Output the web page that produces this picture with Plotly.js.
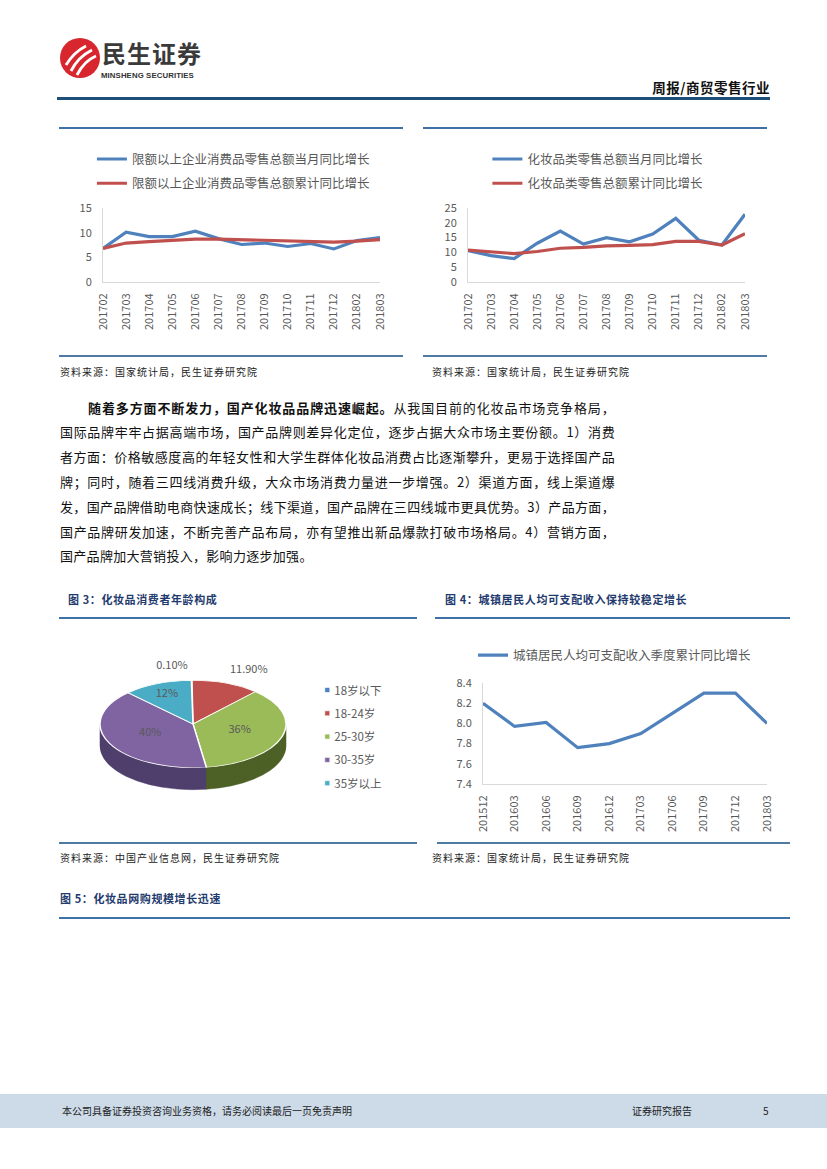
<!DOCTYPE html>
<html><head><meta charset="utf-8">
<script src="https://cdn.plot.ly/plotly-3.0.1.min.js"></script>
<style>
html,body{margin:0;padding:0;background:#fff;}
#page{position:relative;width:827px;height:1169px;overflow:hidden;font-family:"Noto Sans CJK SC","Noto Sans",sans-serif;}
.abs{position:absolute;}
.hl{position:absolute;height:2px;background:#3f70a6;}
.src{position:absolute;font-size:10px;color:#222;letter-spacing:1px;white-space:nowrap;line-height:12px;}
.cap{position:absolute;font-size:11px;font-weight:bold;color:#1f3b6e;letter-spacing:0.6px;white-space:nowrap;line-height:14px;}
.para{position:absolute;left:60px;top:395.6px;width:555px;font-size:13px;letter-spacing:0.3px;color:#111;line-height:24.8px;}
.para div{text-align:justify;text-align-last:justify;height:24.8px;}
.para div.last{text-align:left;text-align-last:left;}
.chart{position:absolute;}
</style></head>
<body><div id="page">

<svg class="abs" style="left:60px;top:38px" width="40" height="40" viewBox="0 0 40 40">
  <circle cx="20" cy="20" r="20" fill="#d7262d"/>
  <path d="M6 27 Q14 14 26 8" stroke="#fff" stroke-width="2.8" fill="none"/>
  <path d="M11 33 Q18 19 32 12" stroke="#fff" stroke-width="2.8" fill="none"/>
  <path d="M17 37 Q24 23 36 18" stroke="#fff" stroke-width="2.8" fill="none"/>
</svg>
<div class="abs" style="left:102px;top:41px;font-size:24px;font-weight:bold;color:#3a3a3a;letter-spacing:1px;line-height:24px;">民生证券</div>
<div class="abs" style="left:101px;top:71px;font-family:'Liberation Sans',Arial,sans-serif;font-size:7.8px;font-weight:bold;color:#333;letter-spacing:0.1px;line-height:9px;">MINSHENG SECURITIES</div>
<div class="abs" style="right:57px;top:78px;font-size:13.5px;font-weight:bold;color:#111;line-height:18px;letter-spacing:0.5px;">周报/商贸零售行业</div>
<div class="abs" style="left:57px;top:96.5px;width:713px;height:3px;background:#1f4e79;"></div>

<div class="hl" style="left:59px;top:126.5px;width:344px;"></div>
<div class="hl" style="left:423px;top:126.5px;width:344px;"></div>
<div class="hl" style="left:59px;top:354.5px;width:344px;background:#4f7aa3;"></div>
<div class="hl" style="left:423px;top:354.5px;width:344px;background:#4f7aa3;"></div>
<div class="src" style="left:60px;top:366px;">资料来源：国家统计局，民生证券研究院</div>
<div class="src" style="left:432px;top:366px;">资料来源：国家统计局，民生证券研究院</div>

<div class="para">
<div style="padding-left:28px;"><b>随着多方面不断发力，国产化妆品品牌迅速崛起。</b>从我国目前的化妆品市场竞争格局，</div>
<div>国际品牌牢牢占据高端市场，国产品牌则差异化定位，逐步占据大众市场主要份额。1）消费</div>
<div>者方面：价格敏感度高的年轻女性和大学生群体化妆品消费占比逐渐攀升，更易于选择国产品</div>
<div>牌；同时，随着三四线消费升级，大众市场消费力量进一步增强。2）渠道方面，线上渠道爆</div>
<div>发，国产品牌借助电商快速成长；线下渠道，国产品牌在三四线城市更具优势。3）产品方面，</div>
<div>国产品牌研发加速，不断完善产品布局，亦有望推出新品爆款打破市场格局。4）营销方面，</div>
<div class="last">国产品牌加大营销投入，影响力逐步加强。</div>
</div>

<div class="cap" style="left:68px;top:592px;">图 3：化妆品消费者年龄构成</div>
<div class="cap" style="left:445px;top:592px;">图 4：城镇居民人均可支配收入保持较稳定增长</div>
<div class="hl" style="left:59px;top:617px;width:358px;"></div>
<div class="hl" style="left:435px;top:617px;width:355px;"></div>
<div class="hl" style="left:59px;top:842px;width:358px;background:#4f7aa3;"></div>
<div class="hl" style="left:437px;top:842px;width:353px;background:#4f7aa3;"></div>
<div class="src" style="left:60px;top:852px;">资料来源：中国产业信息网，民生证券研究院</div>
<div class="src" style="left:432px;top:852px;">资料来源：国家统计局，民生证券研究院</div>
<div class="cap" style="left:60px;top:891px;">图 5：化妆品网购规模增长迅速</div>
<div class="hl" style="left:59px;top:917px;width:731px;"></div>

<div class="abs" style="left:0;top:1094px;width:827px;height:34px;background:#cddbe9;"></div>
<div class="abs" style="left:62px;top:1104px;font-size:10px;color:#222;line-height:14px;">本公司具备证券投资咨询业务资格，请务必阅读最后一页免责声明</div>
<div class="abs" style="left:632px;top:1104px;font-size:10px;color:#222;line-height:14px;">证券研究报告</div>
<div class="abs" style="left:763px;top:1104px;font-size:10px;color:#222;line-height:14px;">5</div>

<div id="c1" class="chart" style="left:60px;top:130px;width:343px;height:222px;"></div>
<div id="c2" class="chart" style="left:423px;top:130px;width:344px;height:222px;"></div>
<div id="c3" class="chart" style="left:60px;top:620px;width:355px;height:222px;"></div>
<div id="c4" class="chart" style="left:437px;top:620px;width:353px;height:222px;"></div>
</div>

<script>
// ---------- data ----------
const months = ['201702','201703','201704','201705','201706','201707','201708','201709','201710','201711','201712','201802','201803'];
const retailMonthly    = [6.8,10.1,9.2,9.2,10.3,8.8,7.6,7.9,7.2,7.8,6.7,8.4,9.0];
const retailCumulative = [6.8,7.9,8.2,8.4,8.7,8.7,8.6,8.5,8.3,8.2,8.1,8.3,8.6];
const retailNames = ['限额以上企业消费品零售总额当月同比增长','限额以上企业消费品零售总额累计同比增长'];

const cosMonthly    = [10.6,8.9,7.9,13.1,17.2,12.8,15.0,13.6,16.2,21.5,14.1,12.5,22.9];
const cosCumulative = [10.8,10.2,9.6,10.3,11.4,11.7,12.2,12.4,12.6,13.7,13.7,12.5,16.3];
const cosNames = ['化妆品类零售总额当月同比增长','化妆品类零售总额累计同比增长'];

const ageGroups = ['18岁以下','18-24岁','25-30岁','30-35岁','35岁以上'];
const ageShares = [0.1, 11.9, 36, 40, 12];
const ageLabels = ['0.10%','11.90%','36%','40%','12%'];

const quarters = ['201512','201603','201606','201609','201612','201703','201706','201709','201712','201803'];
const incomeGrowth = [8.2,7.97,8.01,7.76,7.8,7.9,8.1,8.3,8.3,8.0];
const incomeName = '城镇居民人均可支配收入季度累计同比增长';

// ---------- styles ----------
const FONT = '"Noto Sans CJK SC","Noto Sans",sans-serif';
const BLUE = '#4f81bd', RED = '#c0504d';
const TXT = '#595959';
const cfgPlot = {staticPlot: true, displayModeBar: false};

function drawLine(id, cats, series, c) {
  const traces = series.map((s, i) => ({
    type: 'scatter', mode: 'lines', x: cats, y: s.y, name: s.name,
    line: {color: s.color, width: 3.2}, legendgroup: 'g' + i
  }));
  const layout = {
    width: c.w, height: c.h, margin: c.m,
    paper_bgcolor: 'rgba(0,0,0,0)', plot_bgcolor: 'rgba(0,0,0,0)',
    font: {family: FONT, size: 11, color: TXT},
    showlegend: true,
    legend: {x: c.lx, y: c.ly, xanchor: 'left', yanchor: 'top', orientation: 'v',
             font: {size: 12.5, color: TXT, family: FONT}, tracegroupgap: c.gap,
             bgcolor: 'rgba(0,0,0,0)', itemwidth: 30},
    xaxis: {type: 'category', showline: true, linecolor: '#d9d9d9', linewidth: 1,
            showgrid: false, zeroline: false, tickangle: -90, ticks: '',
            ticklabelstandoff: 6, tickfont: {size: 11, color: TXT, family: FONT}},
    yaxis: {range: c.yr, dtick: c.dtick, tickformat: c.fmt, showline: true,
            linecolor: '#d9d9d9', linewidth: 1, showgrid: false, zeroline: false,
            ticks: '', ticklabelstandoff: 8, tickfont: {size: 11, color: TXT, family: FONT}}
  };
  return Plotly.newPlot(id, traces, layout, cfgPlot);
}

drawLine('c1', months,
  [{name: retailNames[0], y: retailMonthly, color: BLUE},
   {name: retailNames[1], y: retailCumulative, color: RED}],
  {w: 343, h: 222, m: {l: 43, r: 23, t: 77.7, b: 69.7}, lx: -0.04, ly: 1.86, gap: 5,
   yr: [0, 15], dtick: 5, fmt: 'd'});

drawLine('c2', months,
  [{name: cosNames[0], y: cosMonthly, color: BLUE},
   {name: cosNames[1], y: cosCumulative, color: RED}],
  {w: 344, h: 222, m: {l: 45, r: 22, t: 77.7, b: 69.7}, lx: 0.07, ly: 1.86, gap: 5,
   yr: [0, 25], dtick: 5, fmt: 'd'});

drawLine('c4', quarters,
  [{name: incomeName, y: incomeGrowth, color: BLUE}],
  {w: 353, h: 222, m: {l: 45.7, r: 23.3, t: 63.3, b: 58}, lx: -0.035, ly: 1.42, gap: 0,
   yr: [7.4, 8.4], dtick: 0.2, fmt: '.1f'});

// ---------- 3D-looking pie ----------
const topColors  = ['#4f81bd','#c0504d','#9bbb59','#8064a2','#4bacc6'];
const sideColors = ['#2f4f78','#8a302d','#4d6126','#4f3f6c','#2d7f94'];
const K = 0.47;            // vertical squash of the pie plane
const DEPTH = 22 / K;      // side depth before squash
const NSIDE = 10;
const pieDomain = {x: [0.1127, 0.6366], y: [0.1126, 0.9505]};
const outsidePos = ['outside','outside','inside','inside','inside'];

const pieTraces = [];
for (let i = NSIDE; i >= 1; i--) {
  pieTraces.push({
    type: 'pie', labels: ageGroups, values: ageShares, sort: false,
    direction: 'clockwise', rotation: -1, domain: pieDomain,
    marker: {colors: sideColors, line: {color: sideColors, width: 0.6}},
    textinfo: 'none', hoverinfo: 'skip', showlegend: false
  });
}
pieTraces.push({
  type: 'pie', labels: ageGroups, values: ageShares, sort: false,
  direction: 'clockwise', rotation: -1, domain: pieDomain,
  marker: {colors: topColors, line: {color: '#ffffff', width: 1.5}},
  text: ageLabels, textinfo: 'text',
  textposition: outsidePos,
  insidetextorientation: 'horizontal',
  textfont: {family: FONT, size: 11, color: TXT},
  insidetextfont: {family: FONT, size: 11, color: TXT},
  outsidetextfont: {family: FONT, size: 11, color: TXT},
  hoverinfo: 'skip', showlegend: true
});

Plotly.newPlot('c3', pieTraces, {
  width: 355, height: 222, margin: {l: 0, r: 0, t: 0, b: 0},
  paper_bgcolor: 'rgba(0,0,0,0)', plot_bgcolor: 'rgba(0,0,0,0)',
  font: {family: FONT, size: 11, color: TXT},
  showlegend: true,
  legend: {x: 0.66, y: 0.75, xanchor: 'left', yanchor: 'top',
           font: {size: 11.5, color: TXT, family: FONT}, bgcolor: 'rgba(0,0,0,0)', itemwidth: 30}
}, cfgPlot).then(gd => {
  const layer = gd.querySelector('.pielayer');
  if (!layer) return;
  const cd0 = gd.calcdata[gd.calcdata.length - 1][0];
  const cy = (cd0 && cd0.cy) ? cd0.cy : 222 * (1 - (pieDomain.y[0] + pieDomain.y[1]) / 2);
  layer.setAttribute('transform', `translate(0,${cy * (1 - K)}) scale(1,${K})`);
  const groups = layer.querySelectorAll(':scope > g.trace');
  groups.forEach((g, idx) => {
    if (idx < NSIDE) {
      const off = DEPTH * (NSIDE - idx) / NSIDE;
      g.setAttribute('transform', `translate(0,${off})`);
    }
  });
  // hide leader lines of outside labels
  layer.querySelectorAll('path.textline').forEach(p => p.style.display = 'none');
  // keep label text upright after squash; lift outside labels a little off the rim
  const topGroup = groups[groups.length - 1];
  if (topGroup) {
    topGroup.querySelectorAll('g.slice').forEach((s, si) => {
      s.querySelectorAll('text').forEach(t => {
        const tr = t.getAttribute('transform') || '';
        const lift = outsidePos[si] === 'outside' ? 'translate(0,-20) ' : '';
        t.setAttribute('transform', lift + tr + ` scale(1,${1 / K})`);
      });
    });
  }
  // legend: Excel-like small markers and spacing, no clipping
  const leg = gd.querySelector('.legend');
  if (leg) {
    leg.querySelectorAll('[clip-path]').forEach(el => el.removeAttribute('clip-path'));
    const sb = leg.querySelector('.scrollbox');
    if (sb) sb.removeAttribute('clip-path');
  }
  const items = gd.querySelectorAll('.legend g.traces');
  items.forEach((it, i) => {
    it.setAttribute('transform', `translate(0,${14.5 + i * 23.3})`);
    it.querySelectorAll('.legendpoints path').forEach(p => {
      const tr = p.getAttribute('transform') || '';
      p.setAttribute('transform', 'translate(13,0) ' + tr + ' scale(0.42)');
    });
  });
});
</script>
</body></html>
